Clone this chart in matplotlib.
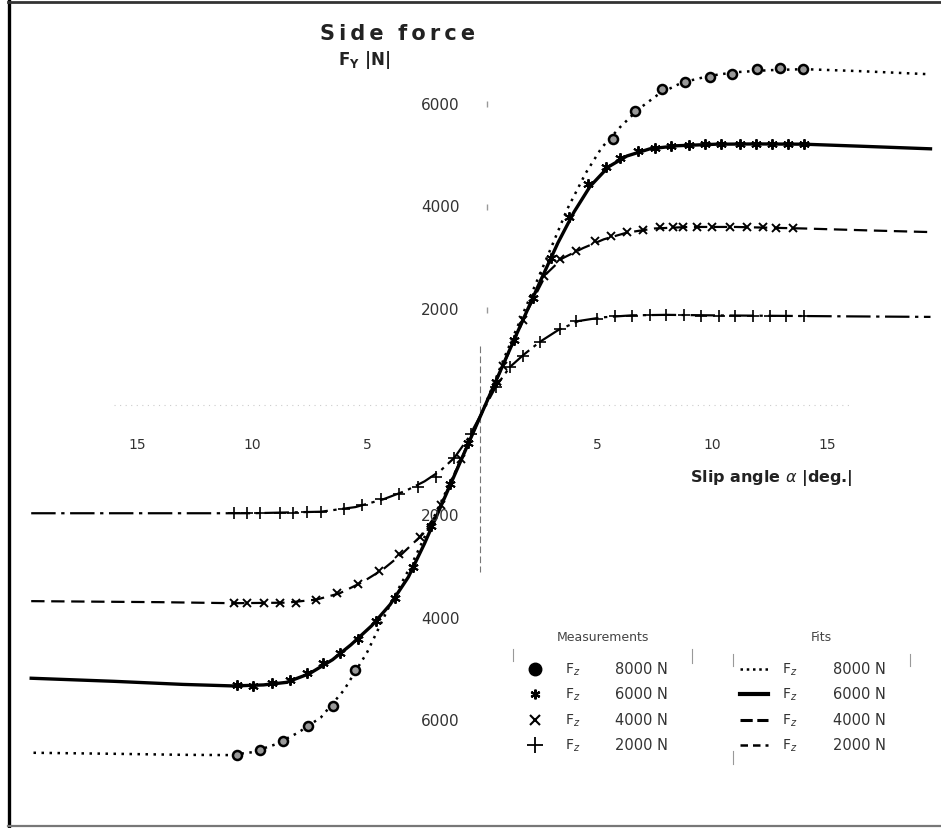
import numpy as np
import matplotlib
matplotlib.use("Agg")
import matplotlib.pyplot as plt
from matplotlib.lines import Line2D

plt.rcParams['font.family'] = ['DejaVu Sans']

# fitted curves (slip angle in deg, side force in N)
fit_deg_8000 = [-19.5, -16, -13, -11, -10, -9, -8, -7, -6, -5, -4, -3, -2, -1, 0,
                1, 2, 3, 3.7, 4.5, 5.2, 6, 6.8, 7.7, 8.7, 9.9, 11, 12.5, 14, 16.5, 19.5]
fit_F_8000 = [-6620, -6640, -6660, -6665, -6610, -6460, -6230, -5930, -5400, -4670, -3740,
              -2900, -1950, -1000, 0, 1100, 2150, 3200, 3950, 4650, 5150, 5550, 5900, 6200,
              6420, 6550, 6620, 6660, 6680, 6640, 6580]

fit_deg_6000 = [-19.6, -16, -13, -10.8, -9.5, -8.5, -7.5, -6.5, -5.7, -4.8, -4, -3.2, -2.5,
                -1.5, 0, 1.5, 2.5, 3.3, 4, 4.7, 5.5, 6.3, 7.3, 8.5, 10.2, 12, 14, 16.5, 19.5]
fit_F_6000 = [-5170, -5230, -5290, -5320, -5300, -5250, -5080, -4810, -4520, -4150, -3740,
              -3200, -2550, -1530, 0, 1520, 2520, 3300, 3900, 4400, 4780, 4990, 5130, 5190,
              5220, 5225, 5220, 5180, 5130]

fit_deg_4000 = [-19.6, -14, -10.8, -8.5, -7.2, -6.2, -5.2, -4.3, -3.5, -2.7, -2, -1, 0,
                1, 2, 2.8, 3.5, 4.4, 5.3, 6.3, 7.5, 9, 11, 14, 17, 19.5]
fit_F_4000 = [-3670, -3690, -3710, -3700, -3640, -3520, -3300, -3050, -2760, -2420, -2000,
              -1000, 0, 1000, 2000, 2700, 3000, 3200, 3370, 3500, 3580, 3610, 3610, 3580,
              3540, 3510]

fit_deg_2000 = [-19.6, -10, -7, -5.5, -4.3, -3.3, -2.5, -1.8, -1.2, -0.6, 0, 0.6, 1.2, 1.8,
                2.5, 3.3, 4.2, 5.2, 6.5, 8, 10, 13, 16, 19.5]
fit_F_2000 = [-1960, -1960, -1930, -1840, -1690, -1520, -1340, -1130, -880, -500, 0, 500,
              880, 1120, 1370, 1600, 1780, 1850, 1890, 1900, 1890, 1880, 1870, 1860]

# measured points
meas_deg_8000 = [-10.65, -9.65, -8.65, -7.57, -6.48, -5.52,
                 5.7, 6.65, 7.83, 8.83, 9.91, 10.87, 11.96, 12.96, 13.96]
meas_F_8000 = [-6660, -6563, -6388, -6097, -5709, -5010,
               5320, 5864, 6291, 6427, 6524, 6583, 6680, 6699, 6680]

meas_deg_6000 = [-10.65, -9.96, -9.13, -8.35, -7.6, -6.9, -6.17, -5.4, -4.6, -3.8, -3.0,
                 -2.2, -1.4, -0.6, 0.6, 1.4, 2.2, 3.0, 3.8, 4.6, 5.4, 6.0, 6.8, 7.5, 8.2,
                 9.0, 9.7, 10.4, 11.2, 11.9, 12.6, 13.3, 14.0]
meas_F_6000 = [-5301, -5320, -5262, -5204, -5068, -4874, -4680, -4400, -4050, -3600, -3000,
               -2200, -1400, -600, 600, 1420, 2230, 3000, 3800, 4450, 4780, 4960, 5080,
               5150, 5180, 5200, 5215, 5220, 5225, 5225, 5225, 5220, 5220]

meas_deg_4000 = [-10.8, -10.2, -9.5, -8.8, -8.1, -7.2, -6.3, -5.4, -4.5, -3.6, -2.7, -1.8,
                 -0.9, 0.9, 1.8, 2.7, 3.4, 4.1, 4.9, 5.6, 6.3, 7.0, 7.74, 8.3, 8.74, 9.35,
                 10.0, 10.8, 11.5, 12.2, 12.8, 13.5]
meas_F_4000 = [-3700, -3705, -3710, -3710, -3705, -3650, -3520, -3330, -3080, -2760, -2420,
               -1800, -900, 900, 1800, 2650, 2980, 3150, 3330, 3440, 3515, 3560, 3600, 3611,
               3615, 3615, 3615, 3611, 3605, 3600, 3590, 3580]

meas_deg_2000 = [-10.8, -10.2, -9.65, -8.8, -8.2, -7.6, -7.0, -6.0, -5.2, -4.4, -3.6, -2.8,
                 -2.0, -1.2, -0.5, 0.6, 1.2, 1.8, 2.5, 3.4, 4.1, 5.0, 5.8, 6.5, 7.3, 8.0,
                 8.8, 9.5, 10.3, 11.0, 11.8, 12.5, 13.2, 14.0]
meas_F_2000 = [-1960, -1960, -1955, -1955, -1950, -1945, -1935, -1880, -1790, -1690, -1580,
               -1450, -1250, -880, -420, 500, 880, 1107, 1379, 1631, 1786, 1820, 1870, 1885,
               1890, 1890, 1890, 1885, 1885, 1880, 1880, 1875, 1870, 1870]

x_ticks = [-15, -10, -5, 5, 10, 15]
x_tick_labels = ["15", "10", "5", "5", "10", "15"]
y_ticks = [6000, 4000, 2000, -2000, -4000, -6000]
y_tick_labels = ["6000", "4000", "2000", "2000", "4000", "6000"]
loads = ["8000 N", "6000 N", "4000 N", "2000 N"]

W, H = 941, 829
X0, XS = 482, 23.0      # px of 0 deg, px per deg
Y0, YS = 413.5, 0.0514  # px of 0 N, px per N


def fx(px):
    return px / W


def fy(py):
    return 1 - py / H


fig = plt.figure(figsize=(W / 100, H / 100), dpi=100)
fig.patch.set_facecolor("white")
ax = fig.add_axes([0, 0, 1, 1])
ax.set_xlim(-X0 / XS, (W - X0) / XS)
ax.set_ylim((Y0 - H) / YS, Y0 / YS)
ax.axis("off")

# faint axes
ax.plot([-16, 16], [150, 150], color="#cccccc", lw=0.8, ls=(0, (1, 4)))
ax.plot([-0.1, -0.1], [1300, -3100], color="#777777", lw=0.8, ls=(0, (6, 3)))
ax.plot([0.2] * 3, y_ticks[:3], ls="none", marker="|", ms=4, color="#999999")

# fits
ax.plot(fit_deg_8000, fit_F_8000, color="black", lw=1.8, ls=(0, (1, 2.2)))
ax.plot(fit_deg_6000, fit_F_6000, color="black", lw=2.4, ls="-")
ax.plot(fit_deg_4000, fit_F_4000, color="black", lw=1.6, ls=(0, (6, 3)))
ax.plot(fit_deg_2000, fit_F_2000, color="black", lw=1.6, ls=(0, (11, 2.5, 1.5, 2.5)))

# measurements
ax.plot(meas_deg_8000, meas_F_8000, ls="none", marker="o", ms=6.5,
        mfc="#999999", mec="black", mew=1.8)
ax.plot(meas_deg_6000, meas_F_6000, ls="none", marker=(6, 2, 0), ms=7.5,
        color="black", mew=1.4)
ax.plot(meas_deg_4000, meas_F_4000, ls="none", marker="x", ms=6,
        color="black", mew=1.4)
ax.plot(meas_deg_2000, meas_F_2000, ls="none", marker="+", ms=9,
        color="black", mew=1.2)

# tick labels
for t, lab in zip(x_ticks, x_tick_labels):
    ax.text(t, (Y0 - 445) / YS, lab, ha="center", va="center",
            fontsize=10, color="#333333")
for t, lab in zip(y_ticks, y_tick_labels):
    ax.text((440 - X0) / XS, t, lab, ha="center", va="center",
            fontsize=11, color="#333333")

# titles
thin = "\u2009"
fig.text(fx(398), fy(34), thin.join("Side") + "  " + thin.join("force"),
         ha="center", va="center", fontsize=15, fontweight="bold", color="#222222")
fig.text(fx(338), fy(60), r"F$_\mathbf{Y}$ |N|", ha="left", va="center",
         fontsize=12, fontweight="bold", color="#222222")
fig.text(fx(690), fy(478), r"Slip angle $\alpha$ |deg.|", ha="left", va="center",
         fontsize=11.5, fontweight="bold", color="#222222")

# legend (hand drawn)
fig.text(fx(603), fy(638), "Measurements", ha="center", va="center",
         fontsize=9, color="#444444")
fig.text(fx(821), fy(638), "Fits", ha="center", va="center",
         fontsize=9, color="#444444")
rows = [670, 695, 721, 746]
meas_style = [dict(marker="o", ms=9, mfc="black", mec="black"),
              dict(marker=(6, 2, 0), ms=7, color="black", mew=1.6),
              dict(marker="x", ms=6.5, color="black", mew=1.5),
              dict(marker="+", ms=12, color="black", mew=1.3)]
fit_style = [dict(lw=1.8, ls=(0, (1, 1.5))),
             dict(lw=3.0, ls="-"),
             dict(lw=2.2, ls=(0, (4, 1.5))),
             dict(lw=1.8, ls=(0, (3, 2)))]
for py, lab, ms_, fs_ in zip(rows, loads, meas_style, fit_style):
    fig.add_artist(Line2D([fx(535)], [fy(py)], transform=fig.transFigure, ls="none", **ms_))
    fig.text(fx(565), fy(py), r"F$_z$", ha="left", va="center", fontsize=10, color="#333333")
    fig.text(fx(615), fy(py), lab, ha="left", va="center", fontsize=10.5, color="#333333")
    fig.add_artist(Line2D([fx(740), fx(768)], [fy(py), fy(py)], transform=fig.transFigure,
                          color="black", **fs_))
    fig.text(fx(782), fy(py), r"F$_z$", ha="left", va="center", fontsize=10, color="#333333")
    fig.text(fx(833), fy(py), lab, ha="left", va="center", fontsize=10.5, color="#333333")

# scan marks around the legend
for x0, y1, y2 in [(513, 650, 662), (692, 650, 664), (733, 655, 667), (910, 655, 667),
                   (733, 752, 765)]:
    fig.add_artist(Line2D([fx(x0), fx(x0)], [fy(y1), fy(y2)], transform=fig.transFigure,
                          color="#999999", lw=0.8))

# frame of the scanned page
fig.add_artist(Line2D([fx(9), fx(9)], [fy(0), fy(828)], transform=fig.transFigure,
                      color="black", lw=2.4))
fig.add_artist(Line2D([fx(8), fx(941)], [fy(3), fy(3)], transform=fig.transFigure,
                      color="#333333", lw=2.0))
fig.add_artist(Line2D([fx(8), fx(941)], [fy(827), fy(827)], transform=fig.transFigure,
                      color="#777777", lw=1.6))

fig.savefig("out.png", dpi=100, facecolor="white")
